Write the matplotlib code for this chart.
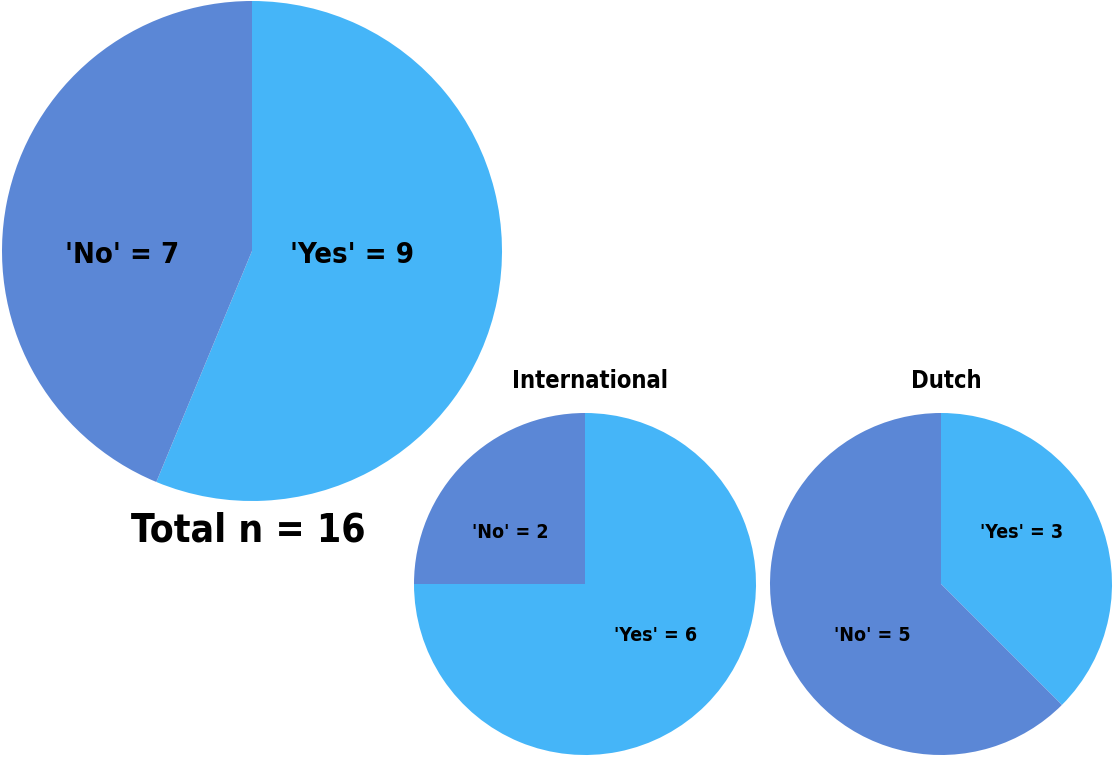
import matplotlib.pyplot as plt

# Data
answers = ["'Yes'", "'No'"]
total_counts = [9, 7]
intl_counts = [6, 2]
dutch_counts = [3, 5]
group_titles = ["International", "Dutch"]

colors = ["#45b5f8", "#5b87d6"]
plt.rcParams['font.family'] = ['DejaVu Sans']
plt.rcParams['font.stretch'] = 'condensed'

W, H = 1114, 758
fig = plt.figure(figsize=(W / 100, H / 100), dpi=100)


def pie_axes(cx, cy, r):
    # cx, cy, r in pixels (y measured from top)
    ax = fig.add_axes([(cx - r) / W, (H - cy - r) / H, 2 * r / W, 2 * r / H])
    ax.set_xlim(-1, 1)
    ax.set_ylim(-1, 1)
    ax.set_aspect('equal')
    ax.axis('off')
    return ax


def draw(ax, counts, label_pos, fs):
    ax.pie(counts, colors=colors, startangle=90, counterclock=False,
           radius=1, wedgeprops=dict(linewidth=0))
    for name, n, (x, y) in zip(answers, counts, label_pos):
        ax.text(x, y, f"{name} = {n}", ha='center', va='center',
                fontsize=fs, fontweight='bold', color='black')
    ax.set_xlim(-1, 1)
    ax.set_ylim(-1, 1)


# Total
ax0 = pie_axes(252, 251, 250)
draw(ax0, total_counts, [(0.4, -0.016), (-0.52, -0.016)], 21)
fig.text(248 / W, 1 - 530 / H, f"Total n = {sum(total_counts)}",
         ha='center', va='center', fontsize=28, fontweight='bold')

# International
ax1 = pie_axes(585, 584, 171)
draw(ax1, intl_counts, [(0.41, -0.30), (-0.44, 0.30)], 14)
ax1.text(0.03, 1.19, group_titles[0], ha='center', va='center',
         fontsize=17, fontweight='bold')

# Dutch
ax2 = pie_axes(941, 584, 171)
draw(ax2, dutch_counts, [(0.47, 0.30), (-0.40, -0.30)], 14)
ax2.text(0.03, 1.19, group_titles[1], ha='center', va='center',
         fontsize=17, fontweight='bold')

fig.savefig("out.png", dpi=100, facecolor='white')
